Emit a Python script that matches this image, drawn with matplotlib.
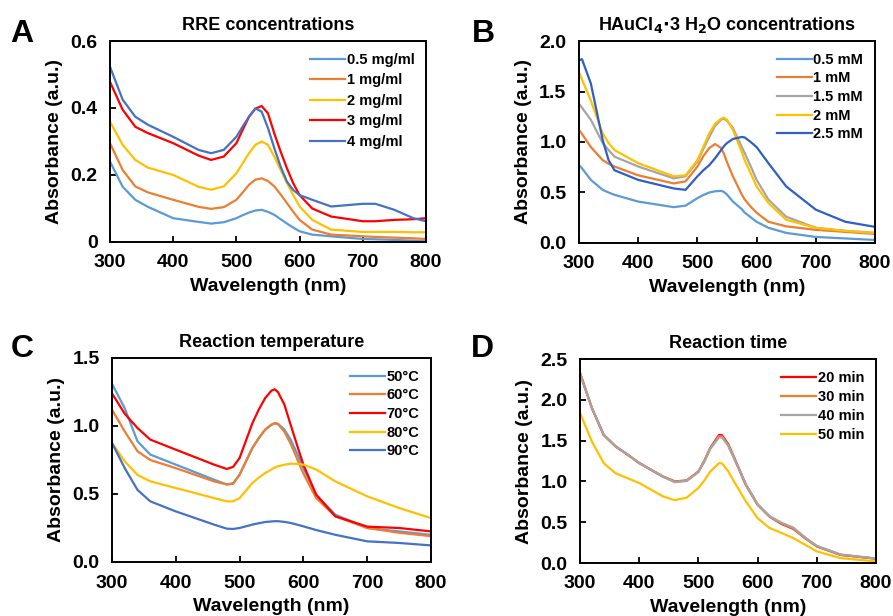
import numpy as np
import matplotlib
matplotlib.use('Agg')
import matplotlib.pyplot as plt

plt.rcParams['font.family'] = ['Liberation Sans', 'DejaVu Sans']
plt.rcParams['font.weight'] = 'bold'
plt.rcParams['axes.labelweight'] = 'bold'

# office colours
LBLUE = '#5B9BD5'
ORANGE = '#ED7D31'
YELLOW = '#FFC000'
RED = '#FF0000'
BLUE = '#4472C4'
DBLUE = '#2F5FC4'
GRAY = '#A5A5A5'

# ---- panel A: RRE concentrations
wl_a = [300, 320, 340, 360, 400, 440, 460, 480, 500, 510, 520, 530, 540, 550, 560, 570, 580, 590,
        600, 620, 650, 700, 720, 750, 780, 800]
a_05 = [0.240, 0.165, 0.126, 0.105, 0.071, 0.060, 0.055, 0.059, 0.071, 0.080, 0.088, 0.094, 0.096,
        0.090, 0.081, 0.068, 0.055, 0.043, 0.032, 0.022, 0.017, 0.009, 0.008, 0.006, 0.004, 0.002]
a_1 = [0.295, 0.215, 0.166, 0.148, 0.126, 0.105, 0.099, 0.104, 0.126, 0.148, 0.171, 0.186, 0.190,
       0.182, 0.166, 0.142, 0.116, 0.090, 0.066, 0.037, 0.022, 0.017, 0.015, 0.013, 0.011, 0.009]
a_2 = [0.359, 0.290, 0.245, 0.222, 0.200, 0.165, 0.156, 0.166, 0.205, 0.235, 0.265, 0.290, 0.300,
       0.290, 0.255, 0.215, 0.176, 0.140, 0.106, 0.066, 0.037, 0.030, 0.030, 0.030, 0.029, 0.029]
a_3 = [0.478, 0.395, 0.344, 0.325, 0.295, 0.258, 0.245, 0.255, 0.295, 0.335, 0.374, 0.398, 0.406,
       0.384, 0.324, 0.270, 0.220, 0.175, 0.140, 0.100, 0.076, 0.062, 0.062, 0.066, 0.068, 0.071]
a_4 = [0.523, 0.425, 0.374, 0.350, 0.314, 0.275, 0.265, 0.275, 0.314, 0.345, 0.374, 0.399, 0.389,
       0.340, 0.280, 0.225, 0.180, 0.155, 0.140, 0.126, 0.106, 0.114, 0.114, 0.096, 0.071, 0.062]
labels_a = ['0.5 mg/ml', '1 mg/ml', '2 mg/ml', '3 mg/ml', '4 mg/ml']

# ---- panel B: HAuCl4 concentrations
wl_b = [300, 305, 320, 340, 350, 360, 400, 460, 480, 500, 510, 520, 530, 540, 545, 550, 560, 575,
        580, 590, 600, 620, 650, 700, 750, 800]
b_05 = [0.770, 0.740, 0.625, 0.526, 0.500, 0.477, 0.410, 0.355, 0.370, 0.444, 0.475, 0.500, 0.512,
        0.516, 0.505, 0.480, 0.410, 0.335, 0.300, 0.255, 0.210, 0.150, 0.100, 0.060, 0.045, 0.030]
b_1 = [1.120, 1.080, 0.950, 0.820, 0.785, 0.757, 0.670, 0.590, 0.610, 0.757, 0.860, 0.940, 0.980,
       0.940, 0.880, 0.800, 0.660, 0.480, 0.430, 0.360, 0.300, 0.210, 0.165, 0.130, 0.110, 0.090]
b_15 = [1.380, 1.340, 1.220, 0.990, 0.920, 0.855, 0.757, 0.640, 0.660, 0.806, 0.930, 1.050, 1.160,
        1.220, 1.230, 1.210, 1.140, 0.950, 0.890, 0.760, 0.625, 0.430, 0.260, 0.150, 0.120, 0.100]
b_2 = [1.690, 1.620, 1.410, 1.085, 0.990, 0.920, 0.790, 0.660, 0.670, 0.820, 0.950, 1.085, 1.180,
       1.230, 1.240, 1.220, 1.120, 0.900, 0.820, 0.690, 0.560, 0.395, 0.230, 0.150, 0.120, 0.100]
b_25 = [1.810, 1.820, 1.580, 1.020, 0.820, 0.720, 0.625, 0.540, 0.526, 0.660, 0.720, 0.770, 0.840,
        0.920, 0.960, 0.990, 1.030, 1.050, 1.045, 1.000, 0.950, 0.790, 0.560, 0.330, 0.210, 0.160]
labels_b = ['0.5 mM', '1 mM', '1.5 mM', '2 mM', '2.5 mM']

# ---- panel C: reaction temperature
wl_c = [300, 320, 340, 360, 400, 460, 480, 490, 500, 520, 530, 540, 550, 555, 560, 570, 580, 590,
        600, 620, 650, 700, 750, 800]
c_50 = [1.310, 1.130, 0.887, 0.790, 0.716, 0.605, 0.570, 0.580, 0.642, 0.838, 0.910, 0.973, 1.010,
        1.020, 1.017, 0.975, 0.900, 0.800, 0.690, 0.495, 0.348, 0.250, 0.225, 0.200]
c_60 = [1.120, 0.960, 0.814, 0.750, 0.690, 0.593, 0.570, 0.575, 0.642, 0.838, 0.910, 0.973, 1.010,
        1.020, 1.015, 0.960, 0.870, 0.760, 0.650, 0.470, 0.336, 0.250, 0.215, 0.190]
c_70 = [1.240, 1.090, 0.985, 0.900, 0.826, 0.716, 0.684, 0.700, 0.765, 1.020, 1.120, 1.205, 1.260,
        1.270, 1.250, 1.160, 1.010, 0.860, 0.716, 0.495, 0.336, 0.260, 0.250, 0.225]
c_80 = [0.875, 0.740, 0.640, 0.593, 0.544, 0.470, 0.446, 0.446, 0.470, 0.580, 0.620, 0.654, 0.680,
        0.695, 0.703, 0.715, 0.723, 0.722, 0.716, 0.680, 0.593, 0.483, 0.397, 0.323]
c_90 = [0.875, 0.690, 0.530, 0.446, 0.372, 0.275, 0.245, 0.243, 0.250, 0.275, 0.285, 0.294, 0.298,
        0.300, 0.300, 0.295, 0.287, 0.275, 0.262, 0.235, 0.200, 0.152, 0.140, 0.122]
labels_c = ['50°C', '60°C', '70°C', '80°C', '90°C']

# ---- panel D: reaction time
wl_d = [300, 320, 340, 360, 380, 400, 440, 460, 480, 500, 510, 520, 535, 540, 550, 560, 570, 580,
        600, 620, 640, 660, 680, 700, 740, 800]
d_20 = [2.330, 1.900, 1.570, 1.430, 1.330, 1.225, 1.060, 1.000, 1.010, 1.120, 1.250, 1.410, 1.570,
        1.565, 1.460, 1.300, 1.130, 0.960, 0.715, 0.570, 0.480, 0.420, 0.306, 0.204, 0.100, 0.053]
d_30 = [2.330, 1.900, 1.570, 1.430, 1.330, 1.225, 1.060, 1.000, 1.010, 1.120, 1.250, 1.405, 1.555,
        1.550, 1.450, 1.290, 1.125, 0.960, 0.715, 0.570, 0.485, 0.425, 0.306, 0.204, 0.100, 0.053]
d_40 = [2.320, 1.900, 1.570, 1.430, 1.330, 1.225, 1.060, 0.990, 1.005, 1.115, 1.245, 1.400, 1.540,
        1.540, 1.440, 1.290, 1.130, 0.965, 0.720, 0.575, 0.495, 0.435, 0.315, 0.210, 0.105, 0.055]
d_50 = [1.840, 1.490, 1.225, 1.100, 1.040, 0.980, 0.817, 0.770, 0.800, 0.920, 1.010, 1.120, 1.225,
        1.220, 1.130, 1.000, 0.880, 0.756, 0.550, 0.430, 0.370, 0.306, 0.225, 0.143, 0.060, 0.020]
labels_d = ['20 min', '30 min', '40 min', '50 min']

W, H = 893, 616
fig = plt.figure(figsize=(W / 100, H / 100), dpi=100)


def make_axes(left, right, top, bottom):
    return fig.add_axes([left / W, 1 - bottom / H, (right - left) / W, (bottom - top) / H])


def style(ax, ymax, yticks, yticklabels, title, spacing):
    ax.set_xlim(300, 800)
    ax.set_ylim(0, ymax)
    ax.set_xticks([300, 400, 500, 600, 700, 800])
    ax.set_yticks(yticks)
    ax.set_yticklabels(yticklabels)
    ax.tick_params(direction='in', length=4, width=1.3, labelsize=14)
    ax.tick_params(axis='x', pad=9)
    ax.tick_params(axis='y', pad=9)
    for s in ax.spines.values():
        s.set_linewidth(1.4)
    ax.set_xlabel('Wavelength (nm)', fontsize=14, labelpad=5)
    ax.set_ylabel('Absorbance (a.u.)', fontsize=14, labelpad=5)
    ax.set_title(title, fontsize=13, fontweight='bold', pad=8)
    ax.legend(loc='upper right', frameon=False, fontsize=10.5, handlelength=2.4,
              handletextpad=0.1, labelspacing=spacing, borderaxespad=0.4)


ax = make_axes(110, 426, 41, 242)
for y, c, lab in zip([a_05, a_1, a_2, a_3, a_4], [LBLUE, ORANGE, YELLOW, RED, BLUE], labels_a):
    ax.plot(wl_a, y, color=c, lw=1.6, label=lab)
style(ax, 0.6, [0, 0.2, 0.4, 0.6], ['0', '0.2', '0.4', '0.6'], 'RRE concentrations', 0.45)

ax = make_axes(579, 875, 41, 243)
for y, c, lab in zip([b_05, b_1, b_15, b_2, b_25], [LBLUE, ORANGE, GRAY, YELLOW, DBLUE], labels_b):
    ax.plot(wl_b, y, color=c, lw=1.6, label=lab)
style(ax, 2.0, [0, 0.5, 1.0, 1.5, 2.0], ['0.0', '0.5', '1.0', '1.5', '2.0'],
      r'HAuCl$_\mathbf{4}$$\cdot$3 H$_\mathbf{2}$O concentrations', 0.32)

ax = make_axes(112, 431, 358, 562)
for y, c, lab in zip([c_50, c_60, c_70, c_80, c_90], [LBLUE, ORANGE, RED, YELLOW, BLUE], labels_c):
    ax.plot(wl_c, y, color=c, lw=1.6, label=lab)
style(ax, 1.5, [0, 0.5, 1.0, 1.5], ['0.0', '0.5', '1.0', '1.5'], 'Reaction temperature', 0.32)

ax = make_axes(580, 876, 359, 563)
for y, c, lab in zip([d_20, d_30, d_40, d_50], [RED, ORANGE, GRAY, YELLOW], labels_d):
    ax.plot(wl_d, y, color=c, lw=1.6, label=lab)
style(ax, 2.5, [0, 0.5, 1.0, 1.5, 2.0, 2.5], ['0.0', '0.5', '1.0', '1.5', '2.0', '2.5'],
      'Reaction time', 0.35)

for letter, x, y in [('A', 22, 34), ('B', 483, 34), ('C', 22, 349), ('D', 482, 349)]:
    fig.text(x / W, 1 - y / H, letter, fontsize=23, fontweight='bold', ha='center', va='center')

fig.savefig('out.png', dpi=100)
